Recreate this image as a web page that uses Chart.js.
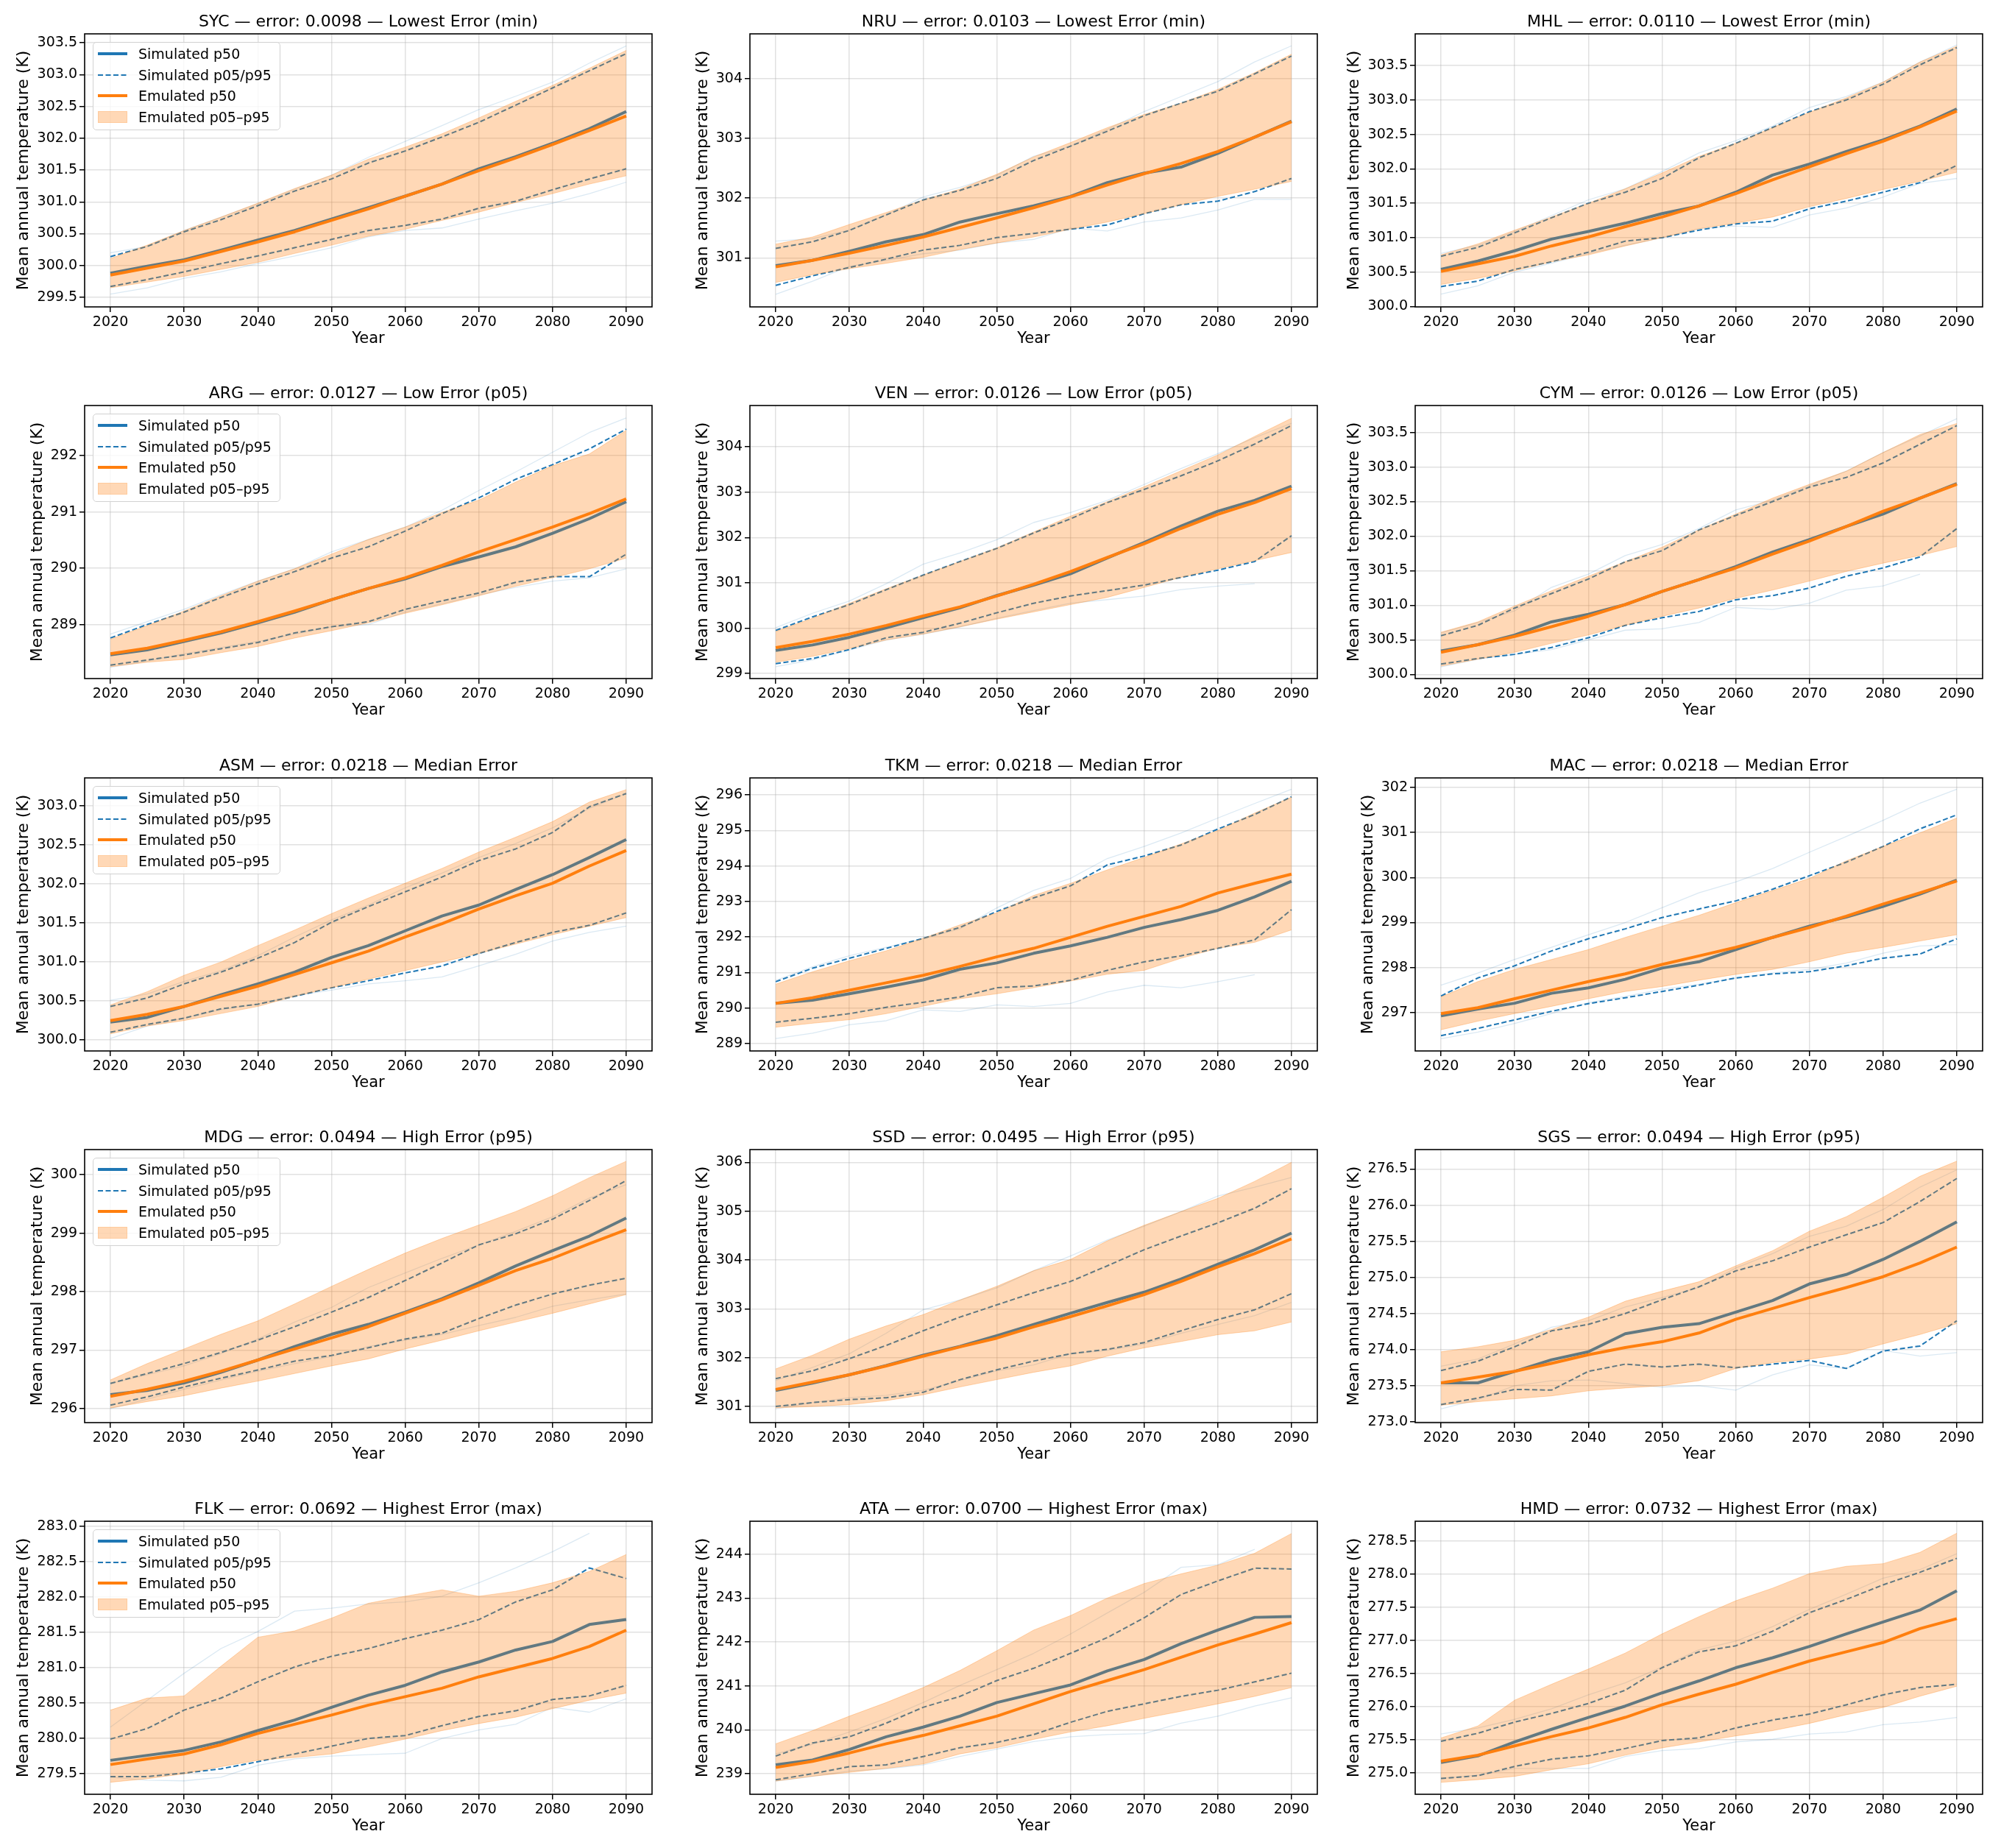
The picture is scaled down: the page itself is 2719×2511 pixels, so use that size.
<!DOCTYPE html>
<html><head><meta charset="utf-8"><title>Simulated vs Emulated mean annual temperature</title>
<script src="https://cdn.jsdelivr.net/npm/chart.js@4.4.1/dist/chart.umd.min.js"></script>
<style>
html,body{margin:0;padding:0;background:#fff}
#fig{position:relative;width:2719px;height:2511px;overflow:hidden;background:#fff}
#fig canvas{position:absolute}
.lg{position:absolute;width:255px;height:120px;box-sizing:border-box;border:1.5px solid #d2d2d2;border-radius:5px;background:rgba(255,255,255,0.8);font-family:'DejaVu Sans',sans-serif;font-size:19px;color:#000}
.lg .it{position:absolute;left:0;width:100%;height:28px}
.lg svg{position:absolute;left:6px;top:6px}
.lg span{position:absolute;left:61px;top:2px;line-height:24px;white-space:nowrap}
</style></head>
<body><div id="fig"></div>
<script>
const years = [2020,2025,2030,2035,2040,2045,2050,2055,2060,2065,2070,2075,2080,2085,2090];
const xTickValues = [2020,2030,2040,2050,2060,2070,2080,2090];
const countries = ['SYC','NRU','MHL','ARG','VEN','CYM','ASM','TKM','MAC','MDG','SSD','SGS','FLK','ATA','HMD'];
const errorValues = ['0.0098','0.0103','0.0110','0.0127','0.0126','0.0126','0.0218','0.0218','0.0218','0.0494','0.0495','0.0494','0.0692','0.0700','0.0732'];
const errorGroups = ['Lowest Error (min)','Lowest Error (min)','Lowest Error (min)','Low Error (p05)','Low Error (p05)','Low Error (p05)','Median Error','Median Error','Median Error','High Error (p95)','High Error (p95)','High Error (p95)','Highest Error (max)','Highest Error (max)','Highest Error (max)'];
const legendLabels = ['Simulated p50','Simulated p05/p95','Emulated p50','Emulated p05\u2013p95'];
const yLabel = 'Mean annual temperature (K)';
const xLabel = 'Year';

const simP50 = [
[299.88,299.99,300.09,300.24,300.40,300.55,300.73,300.91,301.09,301.28,301.52,301.71,301.92,302.15,302.42],
[300.87,300.96,301.11,301.27,301.39,301.60,301.74,301.87,302.03,302.26,302.42,302.52,302.75,303.02,303.29],
[300.54,300.66,300.81,300.98,301.09,301.21,301.35,301.46,301.66,301.91,302.07,302.25,302.42,302.62,302.87],
[288.46,288.55,288.70,288.85,289.03,289.22,289.44,289.64,289.81,290.03,290.20,290.38,290.62,290.88,291.18],
[299.51,299.63,299.80,300.01,300.23,300.45,300.72,300.95,301.20,301.55,301.89,302.25,302.58,302.82,303.13],
[300.34,300.43,300.57,300.76,300.87,301.01,301.20,301.37,301.56,301.77,301.95,302.14,302.32,302.55,302.76],
[300.23,300.29,300.43,300.58,300.72,300.87,301.06,301.21,301.40,301.59,301.73,301.93,302.12,302.34,302.57],
[290.13,290.22,290.40,290.59,290.79,291.09,291.27,291.54,291.75,291.99,292.27,292.49,292.75,293.13,293.57],
[296.93,297.08,297.21,297.43,297.55,297.74,297.99,298.13,298.40,298.67,298.92,299.12,299.36,299.63,299.94],
[296.24,296.31,296.44,296.62,296.83,297.06,297.27,297.44,297.65,297.88,298.15,298.44,298.70,298.95,299.26],
[301.33,301.48,301.65,301.84,302.05,302.23,302.45,302.68,302.91,303.13,303.34,303.61,303.91,304.21,304.55],
[273.54,273.54,273.70,273.86,273.97,274.22,274.31,274.36,274.52,274.68,274.91,275.04,275.25,275.50,275.77],
[279.69,279.76,279.83,279.95,280.11,280.26,280.44,280.61,280.75,280.94,281.08,281.25,281.37,281.61,281.68],
[239.20,239.31,239.55,239.84,240.06,240.31,240.62,240.82,241.02,241.34,241.60,241.96,242.27,242.56,242.58],
[275.16,275.26,275.47,275.66,275.84,276.01,276.21,276.39,276.59,276.74,276.91,277.10,277.28,277.46,277.75]];

const simP95 = [
[300.14,300.30,300.53,300.72,300.94,301.17,301.36,301.61,301.80,302.02,302.25,302.52,302.79,303.06,303.33],
[301.16,301.27,301.46,301.72,301.97,302.13,302.33,302.63,302.87,303.12,303.38,303.59,303.79,304.08,304.38],
[300.73,300.86,301.07,301.29,301.50,301.66,301.86,302.16,302.37,302.60,302.83,303.00,303.23,303.51,303.76],
[288.76,289.00,289.22,289.48,289.72,289.94,290.18,290.38,290.66,290.97,291.25,291.58,291.84,292.12,292.47],
[299.95,300.25,300.52,300.85,301.17,301.47,301.76,302.10,302.41,302.77,303.06,303.36,303.69,304.06,304.47],
[300.56,300.71,300.96,301.17,301.38,301.63,301.79,302.09,302.30,302.50,302.71,302.85,303.06,303.33,303.60],
[300.43,300.54,300.72,300.87,301.05,301.25,301.51,301.71,301.90,302.09,302.30,302.45,302.66,302.99,303.16],
[290.74,291.12,291.40,291.68,291.96,292.27,292.72,293.10,293.44,294.03,294.28,294.59,295.04,295.45,295.95],
[297.37,297.77,298.04,298.37,298.64,298.86,299.11,299.30,299.48,299.74,300.04,300.34,300.69,301.08,301.39],
[296.43,296.60,296.77,296.96,297.17,297.40,297.65,297.90,298.19,298.49,298.80,298.99,299.24,299.56,299.90],
[301.57,301.73,301.98,302.25,302.55,302.83,303.08,303.33,303.56,303.88,304.21,304.49,304.76,305.06,305.46],
[273.71,273.84,274.04,274.26,274.35,274.50,274.69,274.87,275.09,275.23,275.42,275.59,275.76,276.05,276.37],
[279.99,280.14,280.40,280.57,280.80,281.01,281.16,281.27,281.41,281.53,281.68,281.93,282.10,282.41,282.26],
[239.40,239.70,239.84,240.15,240.51,240.76,241.12,241.40,241.74,242.10,242.55,243.08,243.39,243.68,243.66],
[275.48,275.60,275.77,275.90,276.05,276.25,276.59,276.83,276.92,277.14,277.42,277.62,277.84,278.03,278.24]];

const simP05 = [
[299.67,299.78,299.90,300.03,300.15,300.28,300.41,300.55,300.63,300.73,300.90,301.01,301.19,301.36,301.52],
[300.54,300.70,300.84,300.98,301.13,301.21,301.34,301.41,301.48,301.55,301.74,301.89,301.95,302.11,302.33],
[300.29,300.37,300.54,300.65,300.79,300.95,301.00,301.11,301.20,301.24,301.42,301.53,301.66,301.80,302.05],
[288.28,288.37,288.46,288.57,288.68,288.85,288.96,289.05,289.27,289.42,289.56,289.75,289.85,289.85,290.25],
[299.22,299.33,299.53,299.79,299.91,300.11,300.34,300.55,300.71,300.83,300.95,301.12,301.28,301.47,302.04],
[300.15,300.23,300.29,300.39,300.53,300.71,300.82,300.91,301.08,301.14,301.25,301.42,301.54,301.70,302.11],
[300.10,300.20,300.28,300.40,300.46,300.56,300.67,300.76,300.86,300.95,301.11,301.25,301.38,301.47,301.63],
[289.60,289.71,289.84,290.02,290.16,290.31,290.57,290.62,290.78,291.06,291.30,291.47,291.68,291.92,292.77],
[296.49,296.65,296.84,297.03,297.20,297.33,297.47,297.61,297.77,297.86,297.91,298.04,298.21,298.30,298.64],
[296.06,296.20,296.37,296.52,296.66,296.81,296.91,297.04,297.19,297.29,297.54,297.77,297.96,298.11,298.23],
[301.00,301.08,301.14,301.18,301.29,301.55,301.75,301.93,302.08,302.17,302.31,302.55,302.78,302.98,303.31],
[273.24,273.33,273.45,273.44,273.70,273.80,273.76,273.80,273.75,273.80,273.85,273.74,273.98,274.05,274.40],
[279.46,279.46,279.51,279.57,279.67,279.78,279.89,280.00,280.04,280.18,280.31,280.39,280.55,280.60,280.75],
[238.86,239.00,239.16,239.20,239.39,239.59,239.71,239.89,240.17,240.42,240.59,240.76,240.90,241.09,241.29],
[274.92,274.96,275.10,275.21,275.26,275.37,275.49,275.53,275.68,275.80,275.89,276.03,276.18,276.29,276.34]];

const emuP50 = [
[299.85,299.96,300.07,300.22,300.37,300.53,300.71,300.89,301.09,301.28,301.49,301.69,301.90,302.12,302.35],
[300.85,300.96,301.08,301.21,301.35,301.51,301.67,301.84,302.02,302.22,302.41,302.58,302.78,303.02,303.28],
[300.51,300.62,300.73,300.88,301.01,301.16,301.30,301.46,301.64,301.84,302.03,302.22,302.40,302.61,302.84],
[288.48,288.58,288.72,288.87,289.05,289.24,289.44,289.64,289.83,290.05,290.29,290.51,290.73,290.97,291.23],
[299.57,299.71,299.87,300.06,300.27,300.47,300.71,300.97,301.25,301.56,301.86,302.20,302.51,302.77,303.08],
[300.32,300.43,300.55,300.69,300.84,301.01,301.20,301.37,301.54,301.74,301.93,302.14,302.36,302.55,302.75],
[300.25,300.33,300.43,300.56,300.69,300.84,300.99,301.14,301.32,301.49,301.68,301.85,302.01,302.23,302.43],
[290.13,290.29,290.50,290.71,290.92,291.17,291.44,291.68,291.99,292.30,292.58,292.86,293.24,293.51,293.77],
[296.98,297.11,297.31,297.50,297.69,297.86,298.07,298.26,298.45,298.67,298.89,299.14,299.41,299.66,299.92],
[296.21,296.33,296.47,296.64,296.83,297.02,297.21,297.40,297.63,297.86,298.11,298.36,298.57,298.82,299.06],
[301.35,301.50,301.65,301.83,302.03,302.22,302.40,302.63,302.84,303.06,303.29,303.56,303.86,304.13,304.43],
[273.54,273.62,273.70,273.81,273.93,274.03,274.11,274.23,274.42,274.57,274.72,274.86,275.01,275.20,275.42],
[279.63,279.71,279.78,279.91,280.07,280.20,280.33,280.47,280.59,280.71,280.87,281.00,281.13,281.30,281.53],
[239.14,239.28,239.47,239.68,239.87,240.09,240.31,240.59,240.87,241.12,241.37,241.65,241.93,242.18,242.44],
[275.18,275.27,275.41,275.55,275.68,275.84,276.03,276.19,276.34,276.52,276.69,276.83,276.97,277.18,277.33]];

const emuP95 = [
[300.11,300.32,300.55,300.76,300.98,301.21,301.42,301.67,301.86,302.07,302.32,302.58,302.83,303.10,303.38],
[301.23,301.35,301.56,301.76,301.97,302.15,302.40,302.69,302.93,303.18,303.40,303.59,303.82,304.10,304.41],
[300.75,300.91,301.11,301.30,301.50,301.71,301.94,302.18,302.37,302.60,302.82,303.03,303.26,303.55,303.78],
[288.74,288.98,289.24,289.51,289.77,289.99,290.25,290.51,290.73,290.99,291.21,291.53,291.82,292.03,292.45],
[299.93,300.22,300.55,300.87,301.17,301.47,301.77,302.12,302.47,302.79,303.12,303.47,303.82,304.23,304.63],
[300.61,300.76,300.99,301.21,301.42,301.63,301.84,302.09,302.32,302.55,302.75,302.94,303.21,303.47,303.63],
[300.45,300.62,300.83,301.00,301.21,301.41,301.62,301.82,302.01,302.20,302.41,302.60,302.80,303.05,303.21],
[290.67,291.02,291.33,291.61,291.96,292.34,292.68,293.17,293.51,293.89,294.24,294.62,295.00,295.49,295.94],
[297.35,297.69,297.96,298.18,298.40,298.67,298.92,299.16,299.44,299.71,299.98,300.37,300.69,300.99,301.32],
[296.49,296.77,297.02,297.27,297.50,297.79,298.09,298.38,298.66,298.91,299.14,299.37,299.64,299.95,300.23],
[301.77,302.05,302.38,302.65,302.88,303.18,303.46,303.78,304.01,304.39,304.71,304.99,305.26,305.61,306.00],
[273.97,274.04,274.13,274.28,274.45,274.67,274.81,274.94,275.16,275.37,275.64,275.84,276.11,276.40,276.61],
[280.40,280.57,280.60,281.02,281.43,281.52,281.70,281.91,282.01,282.10,282.01,282.08,282.20,282.36,282.60],
[239.68,239.98,240.31,240.62,240.96,241.35,241.80,242.27,242.60,243.00,243.33,243.55,243.75,244.02,244.47],
[275.53,275.71,276.10,276.34,276.57,276.81,277.10,277.36,277.60,277.79,278.01,278.12,278.16,278.33,278.62]];

const emuP05 = [
[299.65,299.74,299.83,299.94,300.05,300.19,300.32,300.46,300.57,300.71,300.84,300.99,301.13,301.28,301.41],
[300.59,300.72,300.82,300.91,301.01,301.14,301.25,301.35,301.48,301.60,301.74,301.89,302.03,302.15,302.28],
[300.32,300.41,300.52,300.65,300.75,300.88,301.00,301.13,301.21,301.30,301.45,301.57,301.70,301.82,301.95],
[288.25,288.33,288.38,288.50,288.61,288.76,288.89,289.03,289.20,289.35,289.51,289.68,289.83,289.99,290.18],
[299.25,299.38,299.55,299.74,299.87,300.03,300.20,300.36,300.52,300.68,300.90,301.12,301.31,301.49,301.67],
[300.12,300.22,300.32,300.45,300.57,300.71,300.84,300.96,301.10,301.22,301.35,301.49,301.61,301.72,301.85],
[300.08,300.18,300.25,300.34,300.43,300.56,300.67,300.78,300.89,301.00,301.11,301.23,301.35,301.46,301.57],
[289.46,289.57,289.67,289.84,290.05,290.26,290.40,290.57,290.76,290.95,291.06,291.40,291.68,291.85,292.20],
[296.62,296.81,296.98,297.14,297.31,297.47,297.58,297.72,297.85,297.96,298.13,298.32,298.45,298.59,298.73],
[296.01,296.12,296.22,296.35,296.47,296.60,296.73,296.85,297.02,297.17,297.33,297.48,297.63,297.79,297.95],
[300.97,301.00,301.04,301.12,301.24,301.40,301.55,301.70,301.83,302.03,302.20,302.33,302.47,302.55,302.73],
[273.23,273.28,273.32,273.36,273.43,273.47,273.50,273.57,273.74,273.82,273.87,273.94,274.08,274.21,274.36],
[279.38,279.43,279.50,279.60,279.69,279.73,279.78,279.88,279.99,280.11,280.21,280.30,280.42,280.54,280.64],
[238.83,238.94,239.03,239.12,239.22,239.45,239.59,239.78,239.95,240.09,240.26,240.42,240.59,240.76,240.96],
[274.86,274.90,274.95,275.05,275.14,275.27,275.38,275.47,275.56,275.64,275.75,275.88,275.99,276.16,276.31]];

const memberHi = [
[300.20,300.30,300.55,300.76,300.97,301.20,301.42,301.70,301.95,302.20,302.45,302.66,302.88,303.18,303.45],
[301.28,301.32,301.47,301.72,302.02,302.18,302.38,302.70,302.87,303.15,303.45,303.70,303.95,304.28,304.55],
[300.77,300.89,301.09,301.32,301.55,301.71,301.96,302.23,302.41,302.62,302.89,303.05,303.26,303.55,303.80],
[288.83,289.05,289.27,289.53,289.77,289.99,290.29,290.51,290.73,291.03,291.38,291.71,292.06,292.41,292.67],
[300.01,300.33,300.60,300.98,301.41,301.66,301.95,302.33,302.55,302.82,303.17,303.52,303.85,304.20,304.52],
[300.60,300.75,300.92,301.26,301.45,301.72,301.88,302.11,302.38,302.52,302.73,302.94,303.21,303.45,303.70],
[300.51,300.59,300.75,300.89,301.08,301.32,301.54,301.73,301.95,302.14,302.34,302.52,302.72,302.97,303.16],
[290.78,291.16,291.47,291.71,291.96,292.23,292.82,293.31,293.65,294.21,294.55,294.93,295.35,295.76,296.16],
[297.61,297.88,298.18,298.45,298.73,299.00,299.33,299.66,299.90,300.20,300.56,300.91,301.27,301.65,301.96],
[296.43,296.58,296.73,296.94,297.19,297.48,297.73,298.07,298.32,298.57,298.80,299.03,299.28,299.60,299.83],
[301.53,301.80,302.08,302.50,302.98,303.18,303.43,303.78,304.08,304.41,304.69,304.99,305.31,305.49,305.69],
[273.77,273.87,274.08,274.31,274.40,274.59,274.72,274.86,275.13,275.33,275.57,275.71,275.94,276.25,276.49],
[280.16,280.54,280.92,281.27,281.51,281.80,281.84,281.90,281.93,282.01,282.20,282.41,282.64,282.90,null],
[239.45,239.67,239.95,240.26,240.62,241.01,241.37,241.74,242.18,242.66,243.13,243.70,243.76,244.11,null],
[275.59,275.68,275.81,275.97,276.18,276.36,276.60,276.86,276.99,277.21,277.47,277.70,277.94,278.07,278.31]];

const memberLo = [
[299.55,299.65,299.80,299.90,300.03,300.15,300.28,300.45,300.55,300.59,300.73,300.86,300.98,301.13,301.31],
[300.39,300.61,300.86,300.96,301.07,301.13,301.25,301.31,301.50,301.45,301.60,301.67,301.80,301.98,301.98],
[300.18,300.30,300.50,300.63,300.77,300.89,301.00,301.13,301.17,301.15,301.33,301.43,301.59,301.79,301.86],
[288.24,288.35,288.48,288.59,288.70,288.83,288.96,289.00,289.22,289.37,289.53,289.66,289.77,289.83,289.99],
[299.15,299.30,299.52,299.74,299.87,300.03,300.22,300.39,300.55,300.63,300.71,300.85,300.93,300.98,null],
[300.11,300.22,300.29,300.36,300.50,300.64,300.66,300.75,300.97,300.94,301.03,301.22,301.28,301.45,null],
[300.02,300.18,300.28,300.39,300.46,300.57,300.64,300.72,300.76,300.81,300.95,301.10,301.27,301.38,301.46],
[289.14,289.29,289.53,289.64,289.95,289.90,290.09,290.04,290.13,290.45,290.64,290.57,290.74,290.94,null],
[296.42,296.57,296.76,296.98,297.22,297.36,297.52,297.63,297.77,297.88,297.96,298.10,298.32,298.48,298.51],
[296.00,296.16,296.33,296.49,296.64,296.77,296.89,297.06,297.17,297.27,297.42,297.56,297.75,297.86,297.96],
[300.95,301.08,301.18,301.23,301.33,301.53,301.73,301.85,302.08,302.15,302.28,302.50,302.68,302.86,303.13],
[273.18,273.31,273.50,273.57,273.58,273.53,273.48,273.50,273.44,273.65,273.79,273.74,273.99,273.91,273.96],
[279.45,279.41,279.40,279.45,279.62,279.71,279.75,279.77,279.79,280.00,280.12,280.20,280.44,280.37,280.56],
[238.83,238.94,239.06,239.11,239.20,239.39,239.56,239.73,239.84,239.89,239.91,240.15,240.31,240.54,240.73],
[274.92,274.97,275.07,275.07,275.07,275.25,275.34,275.37,275.47,275.51,275.59,275.62,275.73,275.77,275.84]];

const yMin  = [299.35,300.18,299.995,288.04,298.89,299.94,299.86,288.79,296.15,295.76,300.67,272.99,279.21,238.53,274.68];
const yMax  = [303.64,304.75,303.96,292.89,304.91,303.89,303.36,296.48,302.21,300.43,306.26,276.77,283.07,244.75,278.80];
const yStep = [0.5,1,0.5,1,1,0.5,0.5,1,1,1,1,0.5,0.5,1,0.5];

/* ---------- drawing ---------- */
Chart.defaults.font.family = "'DejaVu Sans', sans-serif";
Chart.defaults.color = '#000';
const BLUE = '#1f77b4', ORANGE = '#ff7f0e';
const BAND = 'rgba(255,127,14,0.3)';
const FAINT = 'rgba(31,119,180,0.16)';
const GRID = 'rgba(176,176,176,0.38)';
const fig = document.getElementById('fig');
const pts = arr => years.map((x, k) => ({x: x, y: arr[k]}));

const framePlugin = {
  id: 'frame',
  afterDatasetsDraw(chart) {
    const {ctx, chartArea: a} = chart;
    ctx.save();
    ctx.strokeStyle = '#000';
    ctx.lineWidth = 1.6;
    ctx.strokeRect(a.left, a.top, a.right - a.left, a.bottom - a.top);
    ctx.restore();
  }
};

function addLegend(left, top) {
  const d = document.createElement('div');
  d.className = 'lg';
  d.style.left = left + 'px';
  d.style.top = top + 'px';
  const handles = [
    '<line x1="0" y1="8" x2="40" y2="8" stroke="' + BLUE + '" stroke-width="4"/>',
    '<line x1="0" y1="8" x2="40" y2="8" stroke="' + BLUE + '" stroke-width="2" stroke-dasharray="7 3.5"/>',
    '<line x1="0" y1="8" x2="40" y2="8" stroke="' + ORANGE + '" stroke-width="4"/>',
    '<rect x="0" y="0.5" width="40" height="15" fill="' + BAND + '" stroke="' + BAND + '" stroke-width="1"/>'
  ];
  const tops = [1, 30, 58, 87];
  legendLabels.forEach((t, k) => {
    const it = document.createElement('div');
    it.className = 'it';
    it.style.top = tops[k] + 'px';
    it.innerHTML = '<svg width="40" height="16" viewBox="0 0 40 16">' + handles[k] + '</svg><span>' + t + '</span>';
    d.appendChild(it);
  });
  fig.appendChild(d);
}

countries.forEach((c, i) => {
  const col = i % 3, row = Math.floor(i / 3);
  const axLeft = 115 + col * 904;
  const axTop = Math.round(46 + row * 505.25);
  const cv = document.createElement('canvas');
  cv.width = 904; cv.height = 505;
  cv.style.left = (axLeft - 115) + 'px';
  cv.style.top = (axTop - 46) + 'px';
  cv.style.width = '904px'; cv.style.height = '505px';
  fig.appendChild(cv);

  const step = yStep[i];
  const dec = step < 1 ? 1 : 0;
  const yTicks = [];
  const k0 = Math.ceil(yMin[i] / step - 1e-6), k1 = Math.floor(yMax[i] / step + 1e-6);
  for (let k = k0; k <= k1; k++) yTicks.push(+(k * step).toFixed(3));

  const common = {pointRadius: 0, pointHoverRadius: 0, borderJoinStyle: 'round', tension: 0, spanGaps: false};
  new Chart(cv, {
    type: 'line',
    data: {
      datasets: [
        Object.assign({label: 'Emulated p50', data: pts(emuP50[i]), borderColor: ORANGE, borderWidth: 4, fill: false}, common),
        Object.assign({label: 'Emulated p95', data: pts(emuP95[i]), borderColor: BAND, backgroundColor: BAND, borderWidth: 1, fill: 2}, common),
        Object.assign({label: 'Emulated p05', data: pts(emuP05[i]), borderColor: BAND, borderWidth: 1, fill: false}, common),
        Object.assign({label: 'Simulated p50', data: pts(simP50[i]), borderColor: BLUE, borderWidth: 4, fill: false}, common),
        Object.assign({label: 'Simulated p95', data: pts(simP95[i]), borderColor: BLUE, borderWidth: 2, borderDash: [7, 3.5], fill: false}, common),
        Object.assign({label: 'Simulated p05', data: pts(simP05[i]), borderColor: BLUE, borderWidth: 2, borderDash: [7, 3.5], fill: false}, common),
        Object.assign({label: 'member hi', data: pts(memberHi[i]), borderColor: FAINT, borderWidth: 1.3, fill: false}, common),
        Object.assign({label: 'member lo', data: pts(memberLo[i]), borderColor: FAINT, borderWidth: 1.3, fill: false}, common)
      ]
    },
    options: {
      responsive: false,
      animation: false,
      devicePixelRatio: 1,
      events: [],
      layout: {padding: {left: 0, right: 18, top: 0, bottom: 0}},
      plugins: {
        legend: {display: false},
        tooltip: {enabled: false},
        title: {
          display: true, fullSize: false,
          text: c + ' \u2014 error: ' + errorValues[i] + ' \u2014 ' + errorGroups[i],
          font: {size: 22, weight: 'normal'}, color: '#000',
          padding: {top: 17, bottom: 2.6}
        }
      },
      scales: {
        x: {
          type: 'linear', min: 2016.5, max: 2093.5,
          afterBuildTicks: s => { s.ticks = xTickValues.map(v => ({value: v})); },
          afterFit: s => { s.height = 88; },
          ticks: {font: {size: 19}, color: '#000', padding: 3, maxRotation: 0, autoSkip: false, callback: v => String(v)},
          grid: {color: GRID, lineWidth: 1.5, tickLength: 7, tickColor: '#000', tickWidth: 1.5},
          border: {display: false},
          title: {display: true, text: xLabel, font: {size: 21}, color: '#000', padding: {top: 0, bottom: 32}}
        },
        y: {
          type: 'linear', min: yMin[i], max: yMax[i],
          afterBuildTicks: s => { s.ticks = yTicks.map(v => ({value: v})); },
          afterFit: s => { s.width = 115; },
          ticks: {font: {size: 19}, color: '#000', padding: 3, autoSkip: false, callback: v => Number(v).toFixed(dec)},
          grid: {color: GRID, lineWidth: 1.5, tickLength: 7, tickColor: '#000', tickWidth: 1.5},
          border: {display: false},
          title: {display: true, text: yLabel, font: {size: 22}, color: '#000', padding: {top: dec ? 19 : 38, bottom: 0}}
        }
      }
    },
    plugins: [framePlugin]
  });

  if (col === 0) addLegend(axLeft + 11, axTop + 11);
});
</script>
</body></html>
